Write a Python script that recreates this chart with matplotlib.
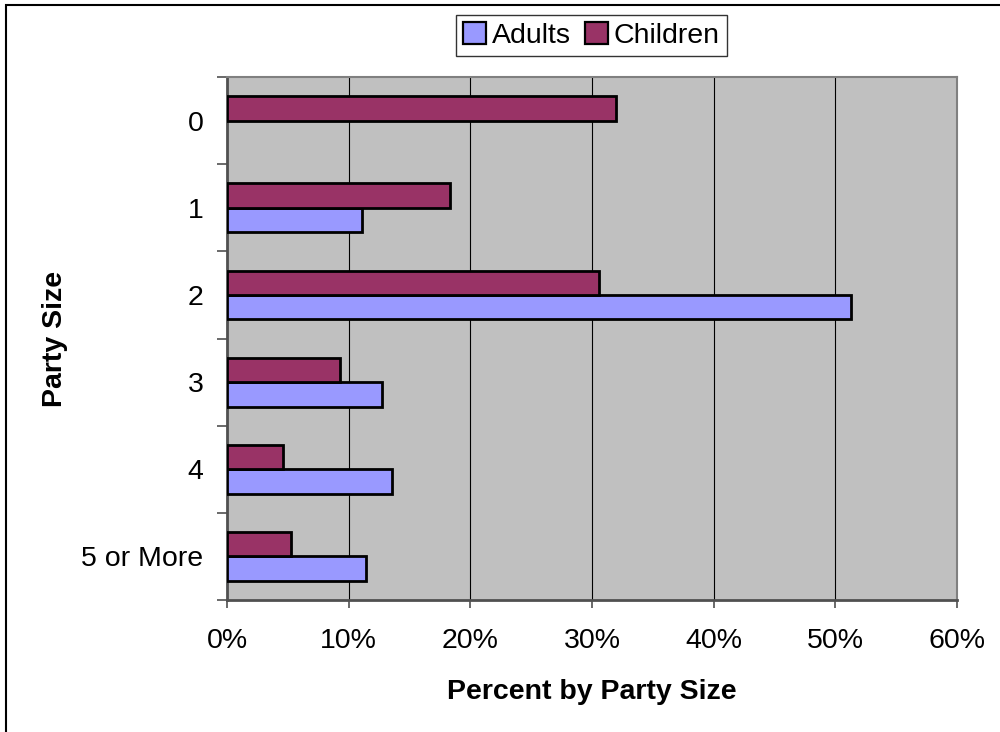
import matplotlib
matplotlib.use('Agg')
import matplotlib.pyplot as plt
import matplotlib.ticker as mticker
from matplotlib.patches import Rectangle
import numpy as np

plt.rcParams['font.family'] = ['Liberation Sans', 'DejaVu Sans']

#Data (percent of parties)
categories = ['0', '1', '2', '3', '4', '5 or More']
adults = [0.0, 11.1, 51.3, 12.7, 13.6, 11.4]
children = [32.0, 18.35, 30.6, 9.3, 4.6, 5.3]

fs = 20.5

fig = plt.figure(figsize=(10, 7.32), dpi=100)
ax = fig.add_axes([0.227, 0.1803, 0.73, 0.7145])

y = np.arange(len(categories))
h = 0.28
#No outline on empty bars (Excel draws nothing there)
ax.barh(y + h/2, adults, height=h, color='#9999FF', edgecolor='black',
        linewidth=[0 if v == 0 else 2.0 for v in adults], label='Adults', zorder=3)
ax.barh(y - h/2, children, height=h, color='#993366', edgecolor='black',
        linewidth=[0 if v == 0 else 2.0 for v in children], label='Children', zorder=3)

ax.set_facecolor('#C0C0C0')
ax.set_xlim(0, 60)
ax.set_ylim(len(categories) - 0.5, -0.5)
ax.xaxis.set_major_locator(mticker.MultipleLocator(10))
ax.xaxis.set_major_formatter(mticker.FuncFormatter(lambda v, p: '%d%%' % v))
ax.grid(axis='x', color='black', linewidth=0.8, zorder=1)

#Category labels between the boundary ticks, like Excel
ax.set_yticks(np.arange(len(categories) + 1) - 0.5)
ax.set_yticklabels([])
ax.set_yticks(y, minor=True)
ax.set_yticklabels(categories, minor=True)
ax.tick_params(axis='y', which='minor', length=0, pad=17, labelsize=fs)
ax.tick_params(axis='y', which='major', length=7, width=1.2, color='#505050')
ax.tick_params(axis='x', length=6, width=1.2, color='#505050', pad=14, labelsize=fs)

for s in ['top', 'right']:
    ax.spines[s].set_color('#808080')
    ax.spines[s].set_linewidth(1.5)
for s in ['left', 'bottom']:
    ax.spines[s].set_color('#505050')
    ax.spines[s].set_linewidth(2)

ax.set_xlabel('Percent by Party Size', fontsize=fs, fontweight='bold', labelpad=18)
ax.set_ylabel('Party Size', fontsize=fs, fontweight='bold', labelpad=0)
ax.yaxis.set_label_coords(-0.218, 0.5)

leg = fig.legend(loc='center', bbox_to_anchor=(0.5915, 0.952), ncol=2, fontsize=fs,
                 frameon=True, fancybox=False, edgecolor='black', handlelength=0.8,
                 handleheight=0.8, handletextpad=0.2, columnspacing=0.5,
                 borderpad=0.25, borderaxespad=0)
leg.get_frame().set_linewidth(1.0)
for p in leg.get_patches():
    p.set_linewidth(1.6)
    p.set_edgecolor('black')

#Outer chart border (only left and top edges fall inside the picture)
fig.patches.append(Rectangle((0.006, -0.5), 2, 1.493, transform=fig.transFigure,
                             fill=False, edgecolor='black', linewidth=1.5))

fig.savefig('out.png', dpi=100)
